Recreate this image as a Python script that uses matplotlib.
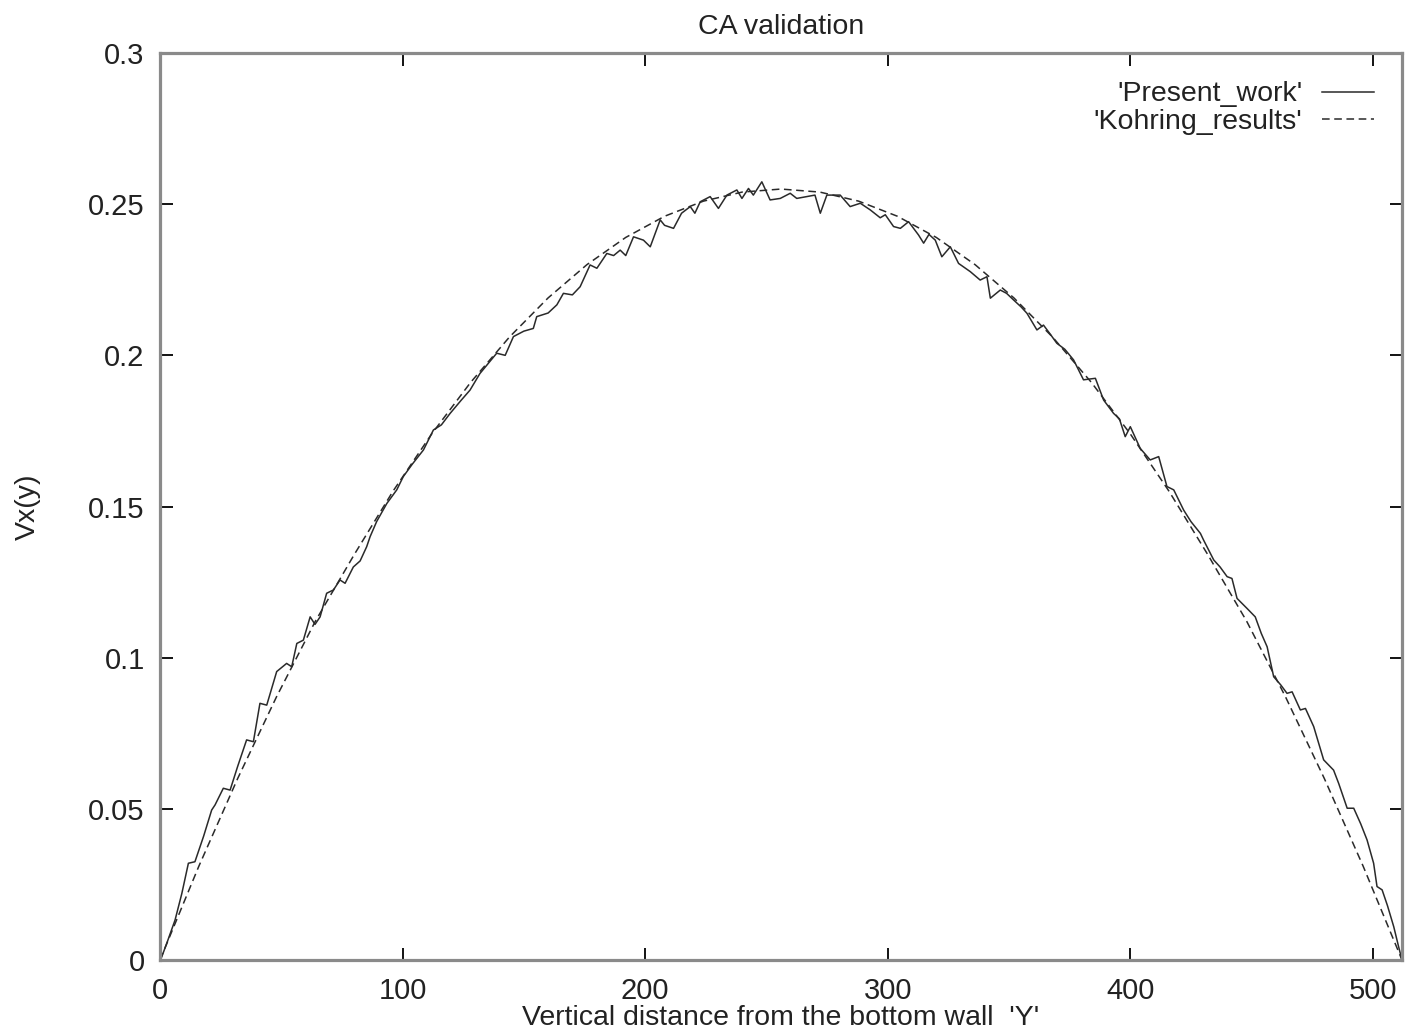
import matplotlib
matplotlib.use("Agg")
import matplotlib.pyplot as plt
from matplotlib.ticker import FuncFormatter

plt.rcParams['font.family'] = ['Liberation Sans', 'DejaVu Sans']

# Kohring results (dashed curve)
kohring_y = [0, 16, 32, 48, 64, 80, 96, 112, 128, 144, 160, 176, 192, 208, 224, 240,
             256, 272, 288, 304, 320, 336, 352, 368, 384, 400, 416, 432, 448, 464, 480,
             496, 512]
kohring_v = [0.0, 0.031, 0.060, 0.087, 0.112, 0.134, 0.155, 0.174, 0.191, 0.206, 0.219,
             0.230, 0.239, 0.246, 0.251, 0.254, 0.255, 0.254, 0.251, 0.246, 0.239,
             0.230, 0.219, 0.206, 0.191, 0.174, 0.155, 0.134, 0.112, 0.087, 0.060,
             0.031, 0.0]

# Present work (noisy solid curve)
present_y = [0, 0.7, 3, 6.2, 9, 11.7, 14.4, 18, 21.3, 22.7, 26.1, 28.9, 32, 35.7, 38.5,
             41.2, 44.0, 48.1, 52.2, 54.3, 56.4, 59.1, 61.9, 63.9, 66, 68.7, 71.5, 74.2,
             76.3, 79.7, 82.5, 85.2, 86.6, 89.3, 93.5, 97.6, 100.3, 104, 108.6, 112.7,
             116, 119.6, 124, 127.8, 131.9, 135, 138.8, 142.3, 145.7, 150, 153.9, 155.3,
             160, 163.6, 166.3, 170, 173.2, 177.3, 180.1, 184.2, 187, 189.7, 192, 195.2,
             199.3, 202.1, 206.2, 208, 211.7, 215, 218.6, 220.5, 222.7, 226.8, 230.2,
             233.7, 237.8, 239.9, 242.6, 244.6, 248.1, 251.5, 255.7, 259.8, 262.5, 266.6,
             270, 272.2, 274.9, 280.4, 284.5, 288.7, 292.8, 296.9, 299, 302.4, 305.2,
             308.6, 312.7, 314.8, 317, 319.6, 322.3, 325.8, 329.2, 334, 338.1, 340.9,
             342.3, 346.4, 349, 351.9, 355, 357.4, 361.5, 364.2, 367, 369.7, 373, 376.6,
             380.7, 385.6, 389, 393.1, 395.5, 397.9, 400, 404.1, 408.2, 411.7, 415.1,
             417.9, 422, 425, 428.9, 430.2, 434.4, 437, 439.9, 441.9, 444, 448.1, 451.5,
             454, 456.4, 459.1, 462, 464.6, 466.7, 470.1, 472.2, 475.6, 479.7, 483.8,
             485.9, 489.4, 492.1, 495, 497.6, 500.3, 501.7, 503.8, 506, 508.6, 510.6, 512]
present_v = [0.0, 0.001, 0.006, 0.0132, 0.022, 0.032, 0.0325, 0.041, 0.0496, 0.0513,
             0.0568, 0.0562, 0.064, 0.0728, 0.0722, 0.0849, 0.0843, 0.0954, 0.0981,
             0.0970, 0.1047, 0.1058, 0.1135, 0.1110, 0.1135, 0.1213, 0.1224, 0.1257,
             0.1246, 0.1300, 0.1320, 0.1367, 0.1400, 0.1450, 0.1510, 0.1555, 0.1599,
             0.1640, 0.1687, 0.1753, 0.1770, 0.1808, 0.1850, 0.1885, 0.1940, 0.1970,
             0.2007, 0.2000, 0.2062, 0.2080, 0.2089, 0.2128, 0.2140, 0.2167, 0.2205,
             0.2200, 0.2227, 0.2299, 0.2288, 0.2337, 0.2330, 0.2348, 0.2330, 0.2392,
             0.2381, 0.2359, 0.2448, 0.2430, 0.2420, 0.2470, 0.2492, 0.2470, 0.2508,
             0.2525, 0.2486, 0.2530, 0.2547, 0.2519, 0.2552, 0.2530, 0.2574, 0.2514,
             0.2519, 0.2536, 0.2519, 0.2525, 0.2530, 0.2470, 0.2530, 0.2530, 0.2492,
             0.2503, 0.2481, 0.2455, 0.2465, 0.2426, 0.2420, 0.2442, 0.2398, 0.2371,
             0.2400, 0.2381, 0.2326, 0.2359, 0.2304, 0.2277, 0.2249, 0.2260, 0.2189,
             0.2216, 0.2205, 0.2183, 0.2160, 0.2139, 0.2084, 0.2100, 0.2070, 0.2040,
             0.2020, 0.1985, 0.1919, 0.1924, 0.1852, 0.1808, 0.1790, 0.1731, 0.1764,
             0.1692, 0.1654, 0.1665, 0.1566, 0.1555, 0.1488, 0.1450, 0.1411, 0.1389,
             0.1323, 0.1300, 0.1268, 0.1262, 0.1196, 0.1163, 0.1135, 0.1080, 0.1036,
             0.0937, 0.0910, 0.0882, 0.0887, 0.0827, 0.0832, 0.0772, 0.0662, 0.0628,
             0.0584, 0.0502, 0.0502, 0.0450, 0.0397, 0.0320, 0.0243, 0.0232, 0.0180,
             0.0110, 0.0044, 0.0]

x_ticks = [0, 100, 200, 300, 400, 500]
y_ticks = [0, 0.05, 0.1, 0.15, 0.2, 0.25, 0.3]

fig = plt.figure(figsize=(14.12, 10.34), dpi=100)
ax = fig.add_axes([160/1412, 1 - 960/1034, (1402-160)/1412, (960-53)/1034])

ax.plot(present_y, present_v, color='#2a2a2a', lw=1.1, label="'Present_work'")
ax.plot(kohring_y, kohring_v, color='#2a2a2a', lw=1.1, linestyle=(0, (5, 3)),
        label="'Kohring_results'")

ax.set_xlim(0, 512)
ax.set_ylim(0, 0.3)
ax.set_xticks(x_ticks)
ax.set_yticks(y_ticks)
ax.yaxis.set_major_formatter(FuncFormatter(lambda v, p: '%g' % v))
ax.tick_params(direction='in', length=9, width=1.3, color='black',
               top=True, right=True, labelsize=21, labelcolor='#222222')
ax.tick_params(axis='y', pad=11)
ax.tick_params(axis='x', pad=12)
for s in ax.spines.values():
    s.set_color('#8a8a8a')
    s.set_linewidth(2.3)

ax.set_title('CA validation', fontsize=20.5, color='#222222', pad=14)
ax.set_xlabel("Vertical distance from the bottom wall  'Y'", fontsize=20.5,
              color='#222222', labelpad=0)
ax.set_ylabel('Vx(y)', fontsize=20.5, color='#222222', labelpad=34)

leg = ax.legend(loc='upper right', frameon=False, markerfirst=False, fontsize=20.5,
                handlelength=1.8, handletextpad=0.7, labelspacing=0.05,
                borderaxespad=0.8, borderpad=0.2)
for t in leg.get_texts():
    t.set_color('#222222')

fig.savefig('out.png', dpi=100, facecolor='white')
